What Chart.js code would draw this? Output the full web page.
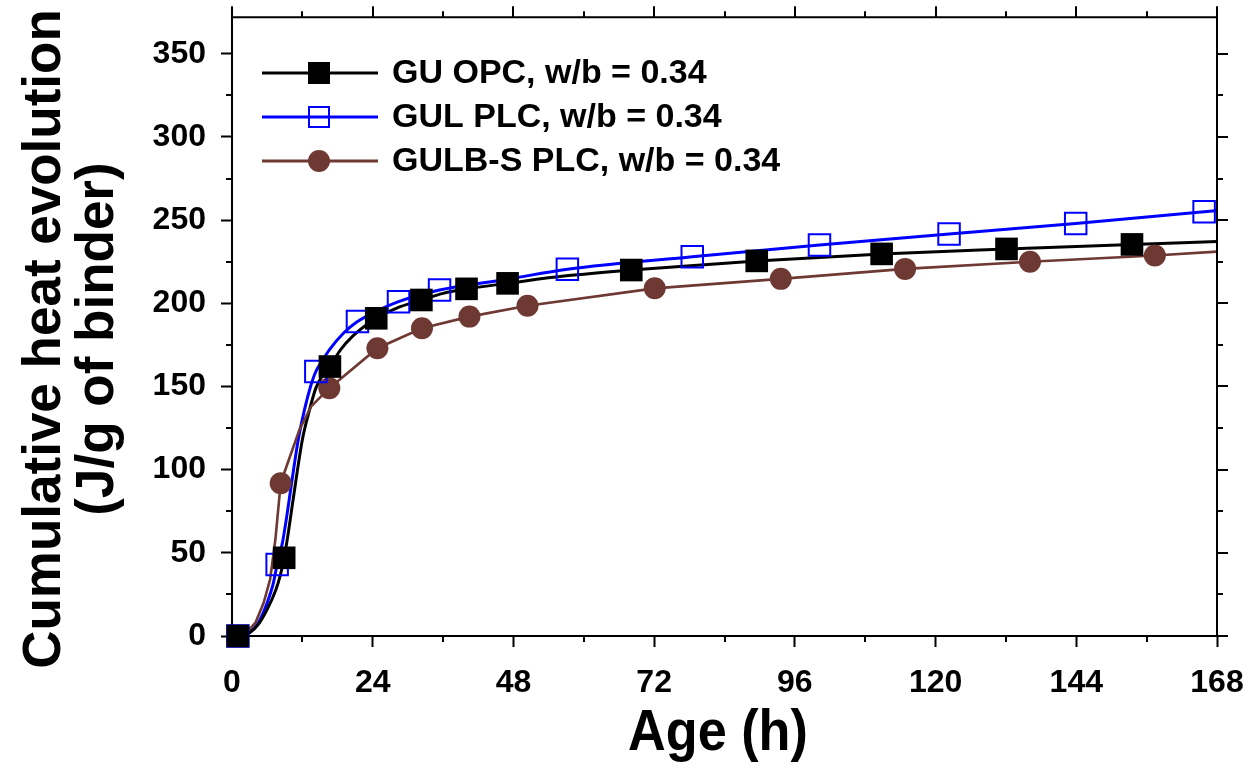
<!DOCTYPE html>
<html>
<head>
<meta charset="utf-8">
<style>
  html, body { margin: 0; padding: 0; background: #ffffff; }
  #wrap { width: 1247px; height: 772px; position: relative; }
</style>
<script src="https://cdn.jsdelivr.net/npm/chart.js@4.4.1/dist/chart.umd.min.js"></script>
</head>
<body>
<div id="wrap"><canvas id="c"></canvas></div>
<script>
// Cumulative heat of hydration (J/g of binder) versus age (h)
const seriesNames = ['GU OPC, w/b = 0.34', 'GUL PLC, w/b = 0.34', 'GULB-S PLC, w/b = 0.34'];

// GU OPC: fitted curve and measured markers
const opcCurveHours = [1, 3, 4.5, 6, 7.5, 8.2, 8.9, 9.6, 10.3, 12, 13, 14.3, 15.5, 16.7, 18.5, 20.5, 24.6, 28, 32.3, 36, 40, 47, 57, 68.1, 89.5, 110.8, 132.1, 153.5, 168];
const opcCurveHeat  = [0, 2, 7, 16, 28, 36, 47, 62, 79, 118, 133, 149, 157, 162, 172, 180, 191, 197, 202, 206, 208.7, 212, 216.5, 220, 225.5, 229.7, 232.7, 235.4, 237.1];
const opcMarkHours  = [1, 8.9, 16.7, 24.6, 32.3, 40, 47, 68.1, 89.5, 110.8, 132.1, 153.5];
const opcMarkHeat   = [0, 47, 162, 191, 202, 208.7, 212, 220, 225.5, 229.7, 232.7, 235.4];

// GUL PLC
const gulCurveHours = [1, 3, 4.5, 6, 7, 7.7, 8.6, 9.3, 10, 11.3, 12.3, 13.4, 14.3, 15.5, 16.6, 19, 21.4, 24.5, 28.4, 35.4, 47, 57.2, 78.5, 100.2, 122.3, 143.9, 165.8, 168];
const gulCurveHeat  = [0, 2, 8, 20, 31, 43, 56, 71, 88, 118, 135, 150, 159, 166, 172, 182, 189, 195, 201, 208, 214.5, 220.5, 228, 235, 241.7, 248, 255, 255.8];
const gulMarkHours  = [1, 7.7, 14.3, 21.4, 28.4, 35.4, 57.2, 78.5, 100.2, 122.3, 143.9, 165.8];
const gulMarkHeat   = [0, 43, 159, 189, 201, 208, 220.5, 228, 235, 241.7, 248, 255];

// GULB-S PLC
const gulbCurveHours = [1, 2.5, 4, 5.4, 6.5, 7.4, 8.3, 9.5, 11.5, 13.5, 16.6, 24.8, 32.4, 40.5, 50.4, 72.1, 93.6, 114.8, 136.1, 157.4, 168];
const gulbCurveHeat  = [0, 2, 8, 20, 34, 58, 91.8, 104, 124, 138, 149, 173, 185, 192, 198.5, 209, 214.7, 220.7, 225, 228.7, 231.1];
const gulbMarkHours  = [1, 8.3, 16.6, 24.8, 32.4, 40.5, 50.4, 72.1, 93.6, 114.8, 136.1, 157.4];
const gulbMarkHeat   = [0, 91.8, 149, 173, 185, 192, 198.5, 209, 214.7, 220.7, 225, 228.7];

// Axis ranges and tick spacing
const xMax = 168, xStep = 12, xLabelEvery = 24;
const yMax = 372, yStep = 25, yLabelEvery = 50;

const BLACK = '#000000';
const BLUE = '#0000ff';
const BROWN = '#6e3833';

const pairs = (xs, ys) => xs.map((x, i) => ({ x: x, y: ys[i] }));

const FONT_FAMILY = '"Liberation Sans", Arial, Helvetica, sans-serif';

// Frame, outward ticks, axis titles and legend
const decorations = {
  id: 'decorations',
  afterDraw(chart) {
    const { ctx, chartArea: a, scales } = chart;
    const xs = scales.x, ys = scales.y;
    ctx.save();
    ctx.strokeStyle = '#000';
    ctx.lineWidth = 2;
    ctx.lineCap = 'butt';

    // top and right edges of the frame
    ctx.beginPath();
    ctx.moveTo(a.left - 1, a.top);
    ctx.lineTo(a.right, a.top);
    ctx.lineTo(a.right, a.bottom + 1);
    ctx.stroke();

    const MAJOR = 11, MINOR = 6;
    // x ticks: minors on bottom, all on top
    for (let v = 0; v <= xMax + 1e-9; v += xStep) {
      const px = Math.round(xs.getPixelForValue(v));
      const len = (v % xLabelEvery === 0) ? MAJOR : MINOR;
      ctx.beginPath();
      if (v % xLabelEvery !== 0) {
        ctx.moveTo(px, a.bottom);
        ctx.lineTo(px, a.bottom + len);
      }
      ctx.moveTo(px, a.top);
      ctx.lineTo(px, a.top - len);
      ctx.stroke();
    }
    // y ticks: minors on left, all on right
    for (let v = 0; v <= yMax + 1e-9; v += yStep) {
      const py = Math.round(ys.getPixelForValue(v));
      const len = (v % yLabelEvery === 0) ? MAJOR : MINOR;
      ctx.beginPath();
      if (v % yLabelEvery !== 0) {
        ctx.moveTo(a.left, py);
        ctx.lineTo(a.left - len, py);
      }
      ctx.moveTo(a.right, py);
      ctx.lineTo(a.right + len, py);
      ctx.stroke();
    }

    // axis titles
    ctx.fillStyle = '#000';
    ctx.textAlign = 'center';
    ctx.textBaseline = 'alphabetic';
    ctx.save();
    ctx.translate(60, 339);
    ctx.rotate(-Math.PI / 2);
    ctx.font = 'bold 53px ' + FONT_FAMILY;
    ctx.fillText('Cumulative heat evolution', 0, 0);
    ctx.fillText('(J/g of binder)', 0, 53);
    ctx.restore();

    ctx.save();
    ctx.translate(718, 750);
    ctx.scale(0.9, 1);
    ctx.font = 'bold 58px ' + FONT_FAMILY;
    ctx.fillText('Age (h)', 0, 0);
    ctx.restore();

    // legend
    const styles = [
      { color: BLACK, shape: 'square', fill: true },
      { color: BLUE, shape: 'square', fill: false },
      { color: BROWN, shape: 'circle', fill: true }
    ];
    ctx.font = 'bold 34px ' + FONT_FAMILY;
    ctx.textAlign = 'left';
    ctx.textBaseline = 'middle';
    seriesNames.forEach((name, i) => {
      const y = 73 + 44 * i;
      const s = styles[i];
      ctx.strokeStyle = s.color;
      ctx.lineWidth = 3;
      ctx.beginPath();
      ctx.moveTo(262, y);
      ctx.lineTo(378, y);
      ctx.stroke();
      const cx = 319;
      if (s.shape === 'square') {
        if (s.fill) {
          ctx.fillStyle = s.color;
          ctx.fillRect(cx - 11, y - 11, 22, 22);
        } else {
          ctx.lineWidth = 2;
          ctx.strokeRect(cx - 10, y - 10, 20, 20);
        }
      } else {
        ctx.fillStyle = s.color;
        ctx.beginPath();
        ctx.arc(cx, y, 11, 0, Math.PI * 2);
        ctx.fill();
      }
      ctx.fillStyle = '#000';
      ctx.fillText(name, 392, y + 1);
    });
    ctx.restore();
  }
};

const tickFont = { family: FONT_FAMILY, size: 32, weight: 'bold' };

new Chart(document.getElementById('c'), {
  type: 'line',
  data: {
    datasets: [
      // measured markers (drawn on top)
      { label: seriesNames[0], data: pairs(opcMarkHours, opcMarkHeat), showLine: false,
        pointStyle: 'rect', pointRadius: 16, pointBackgroundColor: BLACK, pointBorderColor: BLACK,
        pointBorderWidth: 0, clip: false, order: 1 },
      { label: seriesNames[1], data: pairs(gulMarkHours, gulMarkHeat), showLine: false,
        pointStyle: 'rect', pointRadius: 15.2, pointBackgroundColor: 'rgba(0,0,0,0)', pointBorderColor: BLUE,
        pointBorderWidth: 2, clip: false, order: 2 },
      { label: seriesNames[2], data: pairs(gulbMarkHours, gulbMarkHeat), showLine: false,
        pointStyle: 'circle', pointRadius: 11, pointBackgroundColor: BROWN, pointBorderColor: BROWN,
        pointBorderWidth: 0, clip: false, order: 3 },
      // fitted curves
      { label: seriesNames[0] + ' curve', data: pairs(opcCurveHours, opcCurveHeat), borderColor: BLACK,
        borderWidth: 3, pointRadius: 0, cubicInterpolationMode: 'monotone', order: 5 },
      { label: seriesNames[1] + ' curve', data: pairs(gulCurveHours, gulCurveHeat), borderColor: BLUE,
        borderWidth: 3, pointRadius: 0, cubicInterpolationMode: 'monotone', order: 6 },
      { label: seriesNames[2] + ' curve', data: pairs(gulbCurveHours, gulbCurveHeat), borderColor: BROWN,
        borderWidth: 2.6, pointRadius: 0, tension: 0, order: 4 }
    ]
  },
  options: {
    responsive: true,
    maintainAspectRatio: false,
    animation: false,
    devicePixelRatio: 1,
    layout: { padding: { top: 17, right: 30, left: 0, bottom: 0 } },
    plugins: { legend: { display: false }, tooltip: { enabled: false } },
    scales: {
      x: {
        type: 'linear', min: 0, max: xMax,
        ticks: {
          stepSize: xStep, includeBounds: false, autoSkip: false, maxRotation: 0,
          color: '#000', font: tickFont, padding: 17,
          callback: v => (v % xLabelEvery === 0 ? String(v) : '')
        },
        grid: {
          display: true, drawOnChartArea: false, drawTicks: true, tickLength: 11, tickWidth: 2,
          tickColor: c => (c.tick && c.tick.value % xLabelEvery === 0 ? '#000' : 'rgba(0,0,0,0)')
        },
        border: { display: true, color: '#000', width: 2 },
        afterFit: s => { s.height = 136; s.paddingLeft = 0; s.paddingRight = 0; }
      },
      y: {
        type: 'linear', min: 0, max: yMax,
        ticks: {
          stepSize: yStep, includeBounds: false, autoSkip: false,
          color: '#000', font: tickFont, padding: 15,
          callback: v => (v % yLabelEvery === 0 ? String(v) : '')
        },
        grid: {
          display: true, drawOnChartArea: false, drawTicks: true, tickLength: 11, tickWidth: 2,
          tickColor: c => (c.tick && c.tick.value % yLabelEvery === 0 ? '#000' : 'rgba(0,0,0,0)')
        },
        border: { display: true, color: '#000', width: 2 },
        afterFit: s => { s.width = 232; s.paddingTop = 0; s.paddingBottom = 0; }
      }
    }
  },
  plugins: [decorations]
});
</script>
</body>
</html>
